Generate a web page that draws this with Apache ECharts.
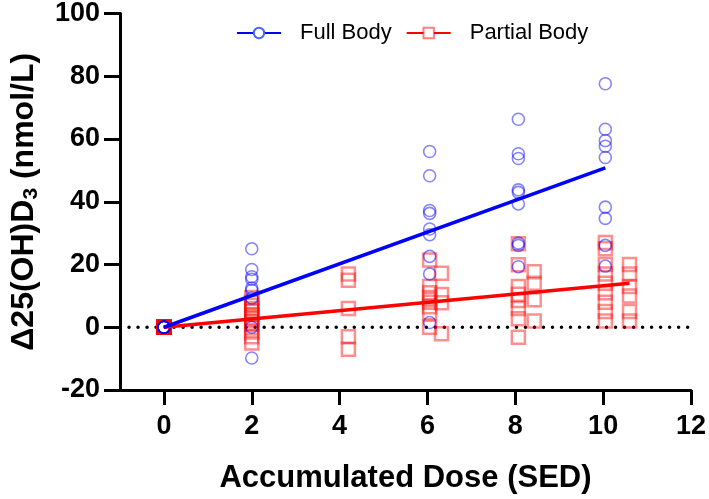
<!DOCTYPE html>
<html><head><meta charset="utf-8">
<script src="https://cdn.jsdelivr.net/npm/echarts@6/dist/echarts.min.js"></script>
<style>html,body{margin:0;padding:0;background:#fff}#c{width:709px;height:499px}</style>
</head><body><div id="c"></div>
<script>
// ---- data ----
const xTicks = [0, 2, 4, 6, 8, 10, 12];
const fullDose0 = [0, 0, 0, 0, 0, 0, 0, 0, 0];
const fullDose2 = [25.0, 18.4, 16.1, 15.3, 12.5, 11.8, 9.3, 0.0, -9.8];
const fullDose6 = [56.0, 48.3, 37.2, 36.3, 31.3, 29.5, 22.6, 17.0, 1.5];
const fullDose8 = [66.3, 55.3, 53.8, 43.8, 43.0, 39.3, 26.8, 26.1, 19.3];
const fullDose10 = [77.6, 63.1, 59.5, 57.7, 54.1, 38.3, 34.7, 26.1, 19.5];
const fullDoses = [0, 2.0, 6.05, 8.07, 10.05];

const partDose0 = [0, 0, 0, 0, 0, 0, 0, 0, 0, 0, 0, 0];
const partDose2 = [9.5, 8, 7, 6, 5, 4, 3, 2, 1, 0, -1.5, -3, -5];
const partDose4 = [17, 15, 6, -3, -7];
const partDose6a = [21.4, 13, 11, 9.5, 8, 6.5, 4.6, 0];
const partDose6b = [17.2, 10.4, 7.8, -2.1];
const partDose8a = [26.6, 19.9, 13, 10.5, 8.5, 6, 2.7, -3.2];
const partDose8b = [17.7, 14, 8.8, 2];
const partDose10a = [27, 25, 20, 17, 14, 11, 8, 5, 2];
const partDose10b = [20, 17, 13, 10, 5, 2];
const partDoses = [0, 2.0, 4.2, 6.05, 6.32, 8.07, 8.43, 10.05, 10.6];

const fullFit = [[0, 0], [10.05, 50.8]];
const partFit = [[0, 0], [10.6, 14.0]];
const zeroLine = [[-1, 0], [12, 0]];

function pts(xs, groups) {
  const out = [];
  groups.forEach((g, i) => g.forEach(v => out.push([xs[i], v])));
  return out;
}
const fullPts = pts(fullDoses, [fullDose0, fullDose2, fullDose6, fullDose8, fullDose10]);
const partPts = pts(partDoses, [partDose0, partDose2, partDose4, partDose6a, partDose6b, partDose8a, partDose8b, partDose10a, partDose10b]);

const BLUE = '#0000ff', RED = '#ff0000';
const FONT = 'Liberation Sans, Arial';
const chart = echarts.init(document.getElementById('c'), null, {renderer: 'canvas'});
const axisCol = '#000';
chart.setOption({
  animation: false,
  backgroundColor: '#fff',
  grid: {left: 115, right: 17, top: 12, bottom: 103, containLabel: false},
  legend: {
    data: ['Full Body', 'Partial Body'],
    left: 231, top: 17,
    itemWidth: 44, itemHeight: 13, itemGap: 14,
    textStyle: {fontFamily: FONT, fontSize: 22, color: '#000', padding: [0, 0, 0, 14]}
  },
  xAxis: {
    type: 'value', min: -1, max: 12,
    name: 'Accumulated Dose (SED)', nameLocation: 'middle', nameGap: 73,
    nameTextStyle: {fontFamily: FONT, fontWeight: 'bold', fontSize: 31, color: '#000'},
    splitLine: {show: false},
    axisLine: {show: true, onZero: false, lineStyle: {color: axisCol, width: 3}},
    axisTick: {show: true, customValues: xTicks, length: 15, inside: false, lineStyle: {color: axisCol, width: 3}},
    axisLabel: {customValues: xTicks, margin: 23, fontFamily: FONT, fontWeight: 'bold', fontSize: 27, color: '#000'}
  },
  yAxis: {
    type: 'value', min: -20, max: 100, interval: 20,
    name: '{a|Δ25(OH)D}{s|3}{a| (nmol/L)}', nameLocation: 'middle', nameGap: 78, nameRotate: 90,
    nameTextStyle: {
      rich: {
        a: {fontFamily: FONT, fontWeight: 'bold', fontSize: 32, color: '#000', lineHeight: 36},
        s: {fontFamily: FONT, fontWeight: 'bold', fontSize: 21, color: '#000', lineHeight: 18, verticalAlign: 'bottom'}
      }
    },
    splitLine: {show: false},
    axisLine: {show: true, onZero: false, lineStyle: {color: axisCol, width: 3}},
    axisTick: {show: true, length: 16, lineStyle: {color: axisCol, width: 3}},
    axisLabel: {margin: 20, fontFamily: FONT, fontWeight: 'bold', fontSize: 27, color: '#000'}
  },
  series: [
    {type: 'line', name: 'zero', data: zeroLine, symbol: 'none', silent: true, z: 1,
     lineStyle: {color: '#000', width: 3.5, type: [0.01, 9], cap: 'round'}},
    {type: 'scatter', name: 'Partial pts', data: partPts, symbol: 'rect', symbolSize: 13, z: 2,
     itemStyle: {color: 'rgba(0,0,0,0)', borderColor: 'rgba(255,0,0,0.55)', borderWidth: 2.5}},
    {type: 'scatter', name: 'Full pts', data: fullPts, symbol: 'circle', symbolSize: 12, z: 3,
     itemStyle: {color: 'rgba(0,0,0,0)', borderColor: 'rgba(0,0,255,0.6)', borderWidth: 1.6}},
    {type: 'line', name: 'Partial Body', data: partFit, symbol: 'emptyRect', symbolSize: 13, showSymbol: false, z: 4,
     color: RED, lineStyle: {color: RED, width: 3.5}, itemStyle: {color: 'rgba(255,0,0,0.5)', borderWidth: 2.5}},
    {type: 'line', name: 'Full Body', data: fullFit, symbol: 'emptyCircle', symbolSize: 11, showSymbol: false, z: 5,
     color: BLUE, lineStyle: {color: BLUE, width: 3.5}, itemStyle: {color: 'rgba(70,100,255,1)', borderWidth: 1.6}}
  ]
});
</script></body></html>
